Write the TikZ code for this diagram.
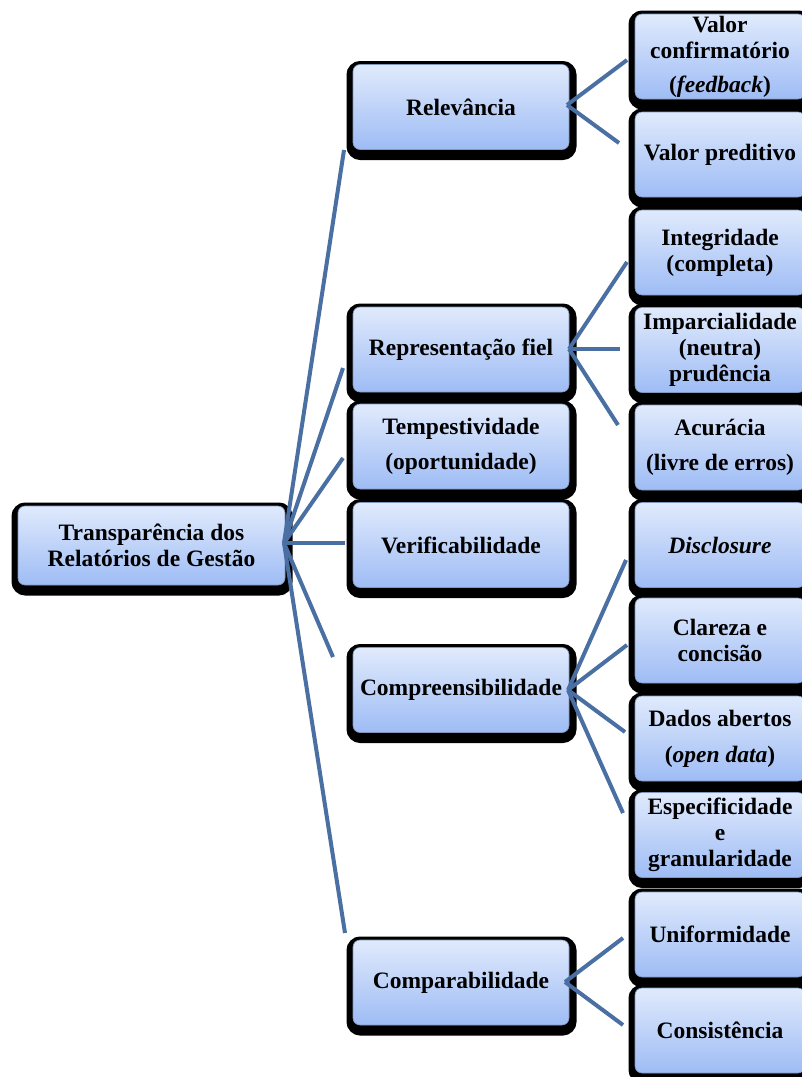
\documentclass[tikz,border=0pt]{standalone}
\usepackage{fontspec}
\setmainfont{Liberation Serif}
\usetikzlibrary{shadows}

\definecolor{boxtop}{HTML}{E0EAFC}
\definecolor{boxbot}{HTML}{9EBCF5}
\definecolor{boxedge}{HTML}{8098BC}
\definecolor{linkblue}{HTML}{4A6FA3}

\tikzset{
  card/.style={rounded corners=7pt, top color=boxtop, bottom color=boxbot,
    draw=boxedge, line width=0.6pt, align=center, inner sep=0pt,
    font=\fontsize{23.5}{26}\selectfont\bfseries,
    general shadow={fill=black, draw=black, line width=14pt,
      shadow xshift=0.5pt, shadow yshift=-3.5pt}},
  rootcard/.style={card, minimum width=267pt, minimum height=79pt},
  midcard/.style={card, minimum width=216pt, minimum height=85pt},
  leafcard/.style={card, minimum width=170pt, minimum height=85pt},
  link/.style={draw=linkblue, line width=4pt},
}

\begin{document}
\begin{tikzpicture}[x=1pt, y=-1pt]
  \useasboundingbox (0,0) rectangle (802,1077);
  \fill[white] (0,0) rectangle (802,1077);
  \clip (0,0) rectangle (802,1077);

  % root
  \node[rootcard] (root) at (151.5,545.5) {Transparência dos\\Relatórios de Gestão};

  % qualitative characteristics
  \node[midcard] (rel) at (461,107)   {Relevância};
  \node[midcard] (rep) at (461,349.5) {Representação fiel};
  \node[midcard] (tem) at (461,446.5) {Tempestividade\\[9pt](oportunidade)};
  \node[midcard] (ver) at (461,545)   {Verificabilidade};
  \node[midcard] (com) at (461,690)   {Compreensibilidade};
  \node[midcard] (cmp) at (461,982.5) {Comparabilidade};

  % attributes
  \node[leafcard] (vc)  at (720,56.5)  {Valor\\confirmatório\\[8pt](\textit{feedback})};
  \node[leafcard] (vp)  at (720,154.5) {Valor preditivo};
  \node[leafcard] (int) at (720,252.5) {Integridade\\(completa)};
  \node[leafcard] (imp) at (720,350)   {Imparcialidade\\(neutra)\\prudência};
  \node[leafcard] (acu) at (720,447.5) {Acurácia\\[9pt](livre de erros)};
  \node[leafcard] (dis) at (720,545)   {\textit{Disclosure}};
  \node[leafcard] (cla) at (720,640.5) {Clareza e\\concisão};
  \node[leafcard] (dad) at (720,738.5) {Dados abertos\\[10pt](\textit{open data})};
  \node[leafcard] (esp) at (720,835)   {Especificidade\\e\\granularidade};
  \node[leafcard] (uni) at (720,934.5) {Uniformidade};
  \node[leafcard] (con) at (720,1030.5){Consistência};

  % connector ports
  \coordinate (rootport) at (284,543);
  \coordinate (relin) at (344,150);
  \coordinate (repin) at (343,368);
  \coordinate (temin) at (343,458);
  \coordinate (verin) at (345,543);
  \coordinate (comin) at (333,657);
  \coordinate (cmpin) at (345,933);

  \coordinate (relout) at (567,105);
  \coordinate (repout) at (569,349);
  \coordinate (comout) at (568,690);
  \coordinate (cmpout) at (565,982);

  \coordinate (vcin)  at (627,60);
  \coordinate (vpin)  at (619,143);
  \coordinate (intin) at (627,262);
  \coordinate (impin) at (620,349);
  \coordinate (acuin) at (618,425);
  \coordinate (disin) at (626,560);
  \coordinate (clain) at (627,645);
  \coordinate (dadin) at (625,732);
  \coordinate (espin) at (623,813);
  \coordinate (uniin) at (623,938);
  \coordinate (conin) at (623,1025);

  % root to characteristics
  \foreach \t in {relin,repin,temin,verin,comin,cmpin}
    \draw[link] (rootport) -- (\t);

  % characteristics to attributes
  \foreach \t in {vcin,vpin} \draw[link] (relout) -- (\t);
  \foreach \t in {intin,impin,acuin} \draw[link] (repout) -- (\t);
  \foreach \t in {disin,clain,dadin,espin} \draw[link] (comout) -- (\t);
  \foreach \t in {uniin,conin} \draw[link] (cmpout) -- (\t);
\end{tikzpicture}
\end{document}
